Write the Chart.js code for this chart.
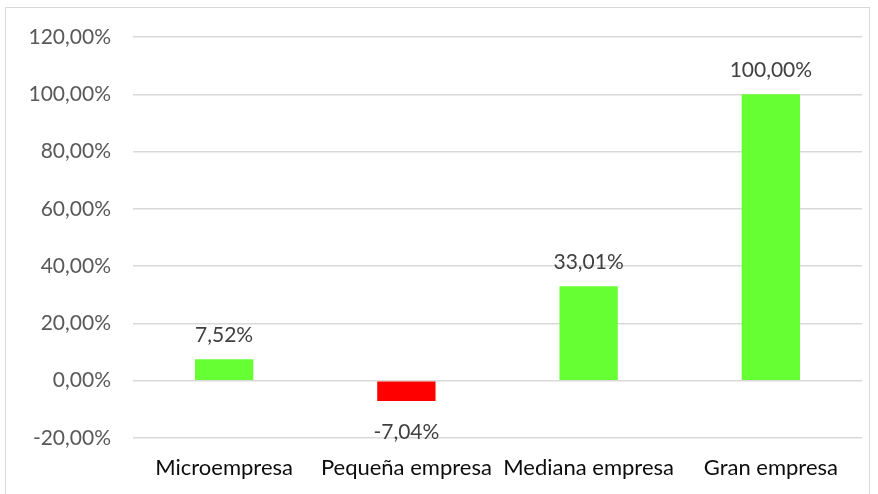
<!DOCTYPE html>
<html>
<head>
<meta charset="utf-8">
<script src="https://cdn.jsdelivr.net/npm/chart.js@4"></script>
<style>
  html, body { margin: 0; padding: 0; background: #fff; }
  #wrap { width: 878px; height: 494px; }
</style>
</head>
<body>
<div id="wrap"><canvas id="myChart" width="878" height="494"></canvas></div>
<script>
// data
const categories = ["Microempresa", "Pequeña empresa", "Mediana empresa", "Gran empresa"];
const values = [7.52, -7.04, 33.01, 100.00];
const barColors = ["#66FF33", "#FF0000", "#66FF33", "#66FF33"];
const yMin = -20, yMax = 120, yStep = 20;

const FONT = "Lato, 'Open Sans', sans-serif";

function fmt(v) {
    return v.toFixed(2).replace(".", ",") + "%";
}

// outer frame like the spreadsheet chart box
const framePlugin = {
    id: "frame",
    beforeDraw(chart) {
        const ctx = chart.ctx;
        ctx.save();
        ctx.fillStyle = "#fff";
        ctx.fillRect(0, 0, chart.width, chart.height);
        ctx.strokeStyle = "#d9d9d9";
        ctx.lineWidth = 1;
        ctx.strokeRect(5.5, 7.5, 864, 520);
        ctx.restore();
    }
};

// value labels above / below the bars
const valueLabels = {
    id: "valueLabels",
    afterDatasetsDraw(chart) {
        const ctx = chart.ctx;
        const meta = chart.getDatasetMeta(0);
        ctx.save();
        ctx.font = "21px " + FONT;
        ctx.fillStyle = "#404040";
        ctx.textAlign = "center";
        ctx.textBaseline = "middle";
        meta.data.forEach((bar, i) => {
            const v = values[i];
            const y = v >= 0 ? bar.y - 24 : bar.y + 31;
            ctx.fillText(fmt(v), bar.x, y);
        });
        ctx.restore();
    }
};

const ctx = document.getElementById("myChart").getContext("2d");
const myChart = new Chart(ctx, {
    type: "bar",
    data: {
        labels: categories,
        datasets: [{
            data: values,
            backgroundColor: barColors,
            borderWidth: 0,
            categoryPercentage: 1,
            barPercentage: 0.32
        }]
    },
    options: {
        responsive: false,
        animation: false,
        layout: { padding: { left: 5, right: 16, top: 37, bottom: 0 } },
        plugins: {
            legend: { display: false },
            tooltip: { enabled: false }
        },
        scales: {
            x: {
                grid: { display: false, drawTicks: false },
                border: { display: false },
                ticks: {
                    color: "#0d0d0d",
                    font: { family: FONT, size: 22 },
                    padding: 17,
                    maxRotation: 0,
                    autoSkip: false
                },
                afterFit(scale) { scale.height = 56; }
            },
            y: {
                min: yMin,
                max: yMax,
                ticks: {
                    stepSize: yStep,
                    color: "#595959",
                    font: { family: FONT, size: 21 },
                    padding: 22,
                    callback: v => fmt(v)
                },
                grid: { color: "#d9d9d9", lineWidth: 1.5, drawTicks: false },
                border: { display: false },
                afterFit(scale) { scale.width = 128; }
            }
        }
    },
    plugins: [framePlugin, valueLabels]
});
</script>
</body>
</html>
